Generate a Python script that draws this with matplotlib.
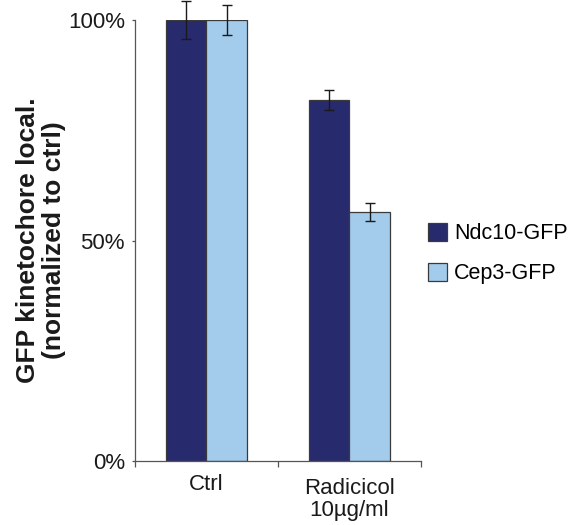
import numpy as np
import matplotlib.pyplot as plt
from matplotlib.ticker import PercentFormatter

plt.rcParams['font.family'] = ['Liberation Sans', 'DejaVu Sans']

categories = ["Ctrl", "Radicicol\n10µg/ml"]
series_names = ["Ndc10-GFP", "Cep3-GFP"]
ndc10 = [100.0, 81.9]
ndc10_err = [4.4, 2.2]
cep3 = [100.0, 56.4]
cep3_err = [3.4, 2.0]

colors = ["#282a6e", "#a3cbeb"]

fig = plt.figure(figsize=(5.74, 5.25), dpi=100)
ax = fig.add_axes([0.2352, 0.1219, 0.4982, 0.8400])

centers = np.arange(len(categories)) + 0.5
width = 0.283

err_kw = dict(ecolor="#1a1a1a", elinewidth=1.0, capsize=3.3, capthick=1.0, clip_on=False)
ax.bar(centers - width / 2, ndc10, width, yerr=ndc10_err, color=colors[0],
       edgecolor="#3a3a3a", linewidth=0.9, label=series_names[0], error_kw=err_kw)
ax.bar(centers + width / 2, cep3, width, yerr=cep3_err, color=colors[1],
       edgecolor="#3a3a3a", linewidth=0.9, label=series_names[1], error_kw=err_kw)

ax.set_xlim(0, 2)
ax.set_ylim(0, 100)
ax.set_yticks([0, 50, 100])
ax.yaxis.set_major_formatter(PercentFormatter(decimals=0))

# category boundaries get the ticks, names sit between them
ax.set_xticks([0, 1, 2])
ax.set_xticklabels([])
ax.set_xticks(centers, minor=True)
ax.set_xticklabels(categories, minor=True, linespacing=1.05)
ax.tick_params(axis="x", which="minor", length=0, pad=9)
ax.tick_params(axis="x", which="major", length=4.5, width=0.9, color="#555555")
ax.tick_params(axis="y", length=2.2, width=0.9, color="#555555", pad=5)
ax.tick_params(which="both", labelsize=16, labelcolor="#1a1a1a")
# second label sits a little lower in the original
ax.xaxis.get_minor_ticks()[1].label1.set_y(-0.01)

for side in ["top", "right"]:
    ax.spines[side].set_visible(False)
for side in ["left", "bottom"]:
    ax.spines[side].set_color("#555555")
    ax.spines[side].set_linewidth(0.9)

ax.set_ylabel("GFP kinetochore local.\n(normalized to ctrl)", fontsize=19,
              fontweight="bold", linespacing=1.1, labelpad=1.5, color="#1a1a1a")

ax.legend(loc="upper left", bbox_to_anchor=(0.731, 0.5915), bbox_transform=fig.transFigure,
          frameon=False, fontsize=15.5, handlelength=0.88, handleheight=0.88,
          handletextpad=0.32, labelspacing=0.88, borderaxespad=0)

fig.savefig("out.png", dpi=100)
